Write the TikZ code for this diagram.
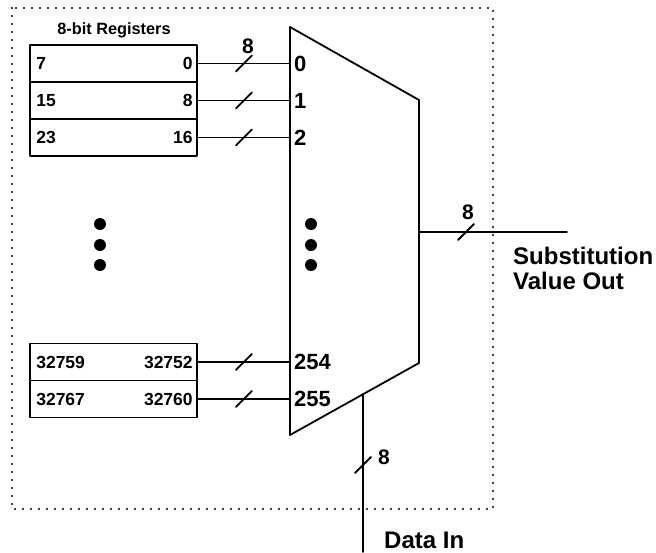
\documentclass[tikz,border=0pt]{standalone}
\usepackage{fontspec}
\setmainfont{Liberation Sans}
\usepackage{tikz}
\usetikzlibrary{positioning,calc}
\tikzset{stick/.style={line width=1.8pt,line cap=round,line join=round},
  regbox/.style={draw,stick,minimum width=167pt,minimum height=37pt,inner sep=0pt},
  regtxt/.style={font=\fontsize{17.5}{17.5}\selectfont\bfseries,inner sep=0pt},
  muxtxt/.style={font=\fontsize{22}{22}\selectfont\bfseries,inner sep=0pt,anchor=west},
  bustxt/.style={font=\fontsize{21}{21}\selectfont\bfseries,inner sep=0pt},
  frame/.style={line width=2.2pt,line cap=round,dash pattern=on 0pt off 8pt}}
\newcommand{\reg}[4]{%
  \node[regbox] (#1) at (113.5,#2) {};
  \node[regtxt,anchor=west] at ([xshift=7pt]#1.west) {#3};
  \node[regtxt,anchor=east] at ([xshift=-5pt]#1.east) {#4};}
\newcommand{\busmark}[1]{\draw[stick] ([shift={(-8,8)}]#1) -- ([shift={(8,-8)}]#1);}
\begin{document}
\begin{tikzpicture}[x=1pt,y=-1pt]
  \useasboundingbox (0,0) rectangle (656,552);
  \draw[frame] (12,8) rectangle (493,509);
  % registers
  \node[font=\fontsize{16.3}{16.3}\selectfont\bfseries] (head) at (114,30) {8-bit Registers};
  \reg{r0}{63.5}{7}{0}
  \reg{r1}{100.5}{15}{8}
  \reg{r2}{137.5}{23}{16}
  \reg{r254}{362}{32759}{32752}
  \reg{r255}{399}{32767}{32760}
  \foreach \y in {224,245,265} \fill (100,\y) circle (6);
  % mux
  \draw[stick] (290,27) -- (419,100) -- (419,363) -- (290,435) -- cycle;
  \coordinate (mL) at (290,0);
  \foreach \y in {224,245,265} \fill (311,\y) circle (6);
  \foreach \r/\t in {r0/0,r1/1,r2/2,r254/254,r255/255}{
    \draw[stick] (\r.east) -- (\r.east -| mL);
    \coordinate (m\r) at ($(\r.east)!0.5!(\r.east -| mL)$);
    \busmark{m\r}
    \node[muxtxt] (in\t) at ([xshift=4pt]\r.east -| mL) {\t};
  }
  \node[bustxt] (w0) at ([shift={(4,-17)}]mr0) {8};
  % output
  \coordinate (out) at (419,232);
  \coordinate (outend) at (567,232);
  \coordinate (outmk) at (466,232);
  \draw[stick] (out) -- (outend);
  \busmark{outmk}
  \node[bustxt] (wout) at (468,212) {8};
  \node[font=\fontsize{24}{25}\selectfont\bfseries,align=left,anchor=north west,inner sep=0pt] (subst) at (513,247) {Substitution\\Value Out};
  % data in
  \coordinate (din) at (363,394);
  \coordinate (dinend) at (363,552);
  \coordinate (dinmk) at (363,465);
  \draw[stick] (din) -- (dinend);
  \busmark{dinmk}
  \node[bustxt,anchor=west] (win) at (378,457) {8};
  \node[font=\fontsize{24}{24}\selectfont\bfseries,anchor=west,inner sep=0pt] (data) at (384,540) {Data In};
\end{tikzpicture}
\end{document}
